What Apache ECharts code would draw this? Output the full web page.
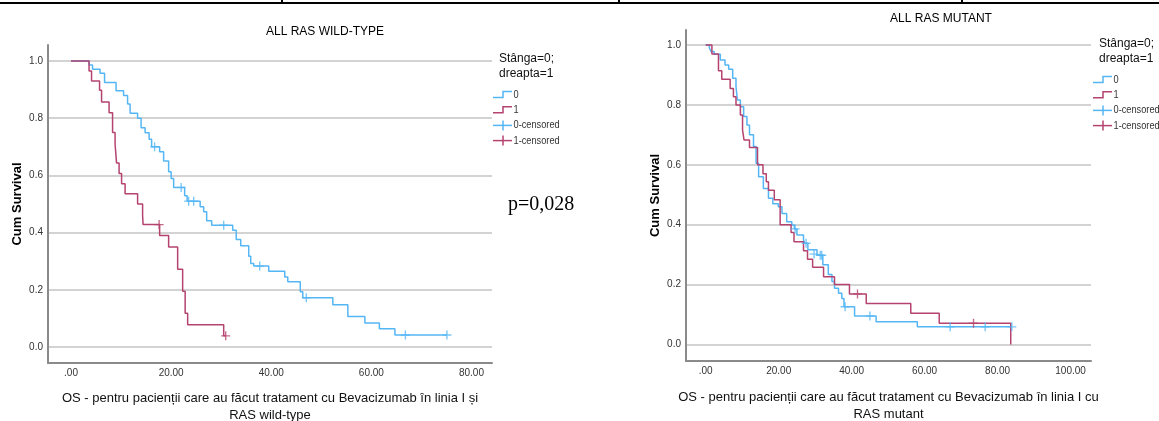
<!DOCTYPE html>
<html>
<head>
<meta charset="utf-8">
<script src="https://cdn.jsdelivr.net/npm/echarts@6/dist/echarts.min.js"></script>
<style>
  html, body { margin: 0; padding: 0; background: #fff; }
  #chart { width: 1159px; height: 421px; }
</style>
</head>
<body>
<div id="chart"></div>
<script>
// tick labels
var xTicksWT = [0, 20, 40, 60, 80]
var xTicksMut = [0, 20, 40, 60, 80, 100]
var yTicks = [0, 0.2, 0.4, 0.6, 0.8, 1.0]
var legendLabels = ['0', '1', '0-censored', '1-censored']

// ALL RAS WILD-TYPE, group 0 (blue)
var wtTime0 = [0, 3.6, 4.3, 5.8, 6.7, 9.0, 10.5, 11.3, 11.8, 13.3, 14.0, 14.8, 15.6, 16.1, 17.7, 18.5, 19.5, 20.0, 20.5, 22.7, 23.2, 25.8, 26.5, 27.1, 28.1, 32.3, 33.0, 33.9, 35.5, 35.9, 36.5, 39.5, 42.7, 43.3, 45.8, 46.3, 52.3, 55.3, 58.7, 61.6, 64.7, 75.1]
var wtSurv0 = [1, 0.986, 0.971, 0.957, 0.925, 0.896, 0.879, 0.85, 0.817, 0.80, 0.767, 0.749, 0.726, 0.70, 0.683, 0.65, 0.613, 0.589, 0.558, 0.529, 0.51, 0.49, 0.473, 0.441, 0.426, 0.408, 0.376, 0.354, 0.317, 0.292, 0.283, 0.265, 0.245, 0.228, 0.193, 0.172, 0.148, 0.107, 0.084, 0.064, 0.042, 0.042]
var wtCensTime0 = [16.7, 22.0, 23.5, 24.5, 30.5, 37.7, 47.0, 66.8, 75.1]
var wtCensSurv0 = [0.70, 0.558, 0.51, 0.51, 0.426, 0.283, 0.172, 0.042, 0.042]

// ALL RAS WILD-TYPE, group 1 (red)
var wtTime1 = [0, 3.6, 4.1, 5.7, 6.1, 7.6, 8.3, 8.8, 9.1, 9.6, 10.1, 10.8, 13.3, 14.3, 14.4, 17.7, 19.5, 21.3, 22.3, 22.8, 23.3, 30.5, 30.9]
var wtSurv1 = [1, 0.965, 0.93, 0.898, 0.857, 0.819, 0.75, 0.71, 0.643, 0.607, 0.571, 0.536, 0.50, 0.46, 0.428, 0.39, 0.35, 0.272, 0.195, 0.118, 0.078, 0.039, 0.039]
var wtCensTime1 = [17.6, 30.9]
var wtCensSurv1 = [0.428, 0.039]

// ALL RAS MUTANT, group 0 (blue)
var mutTime0 = [0, 1.0, 1.5, 2.3, 4.0, 5.3, 6.3, 7.4, 8.3, 8.7, 9.5, 10.4, 11.3, 12.0, 13.1, 13.8, 14.5, 15.8, 17.2, 18.4, 19.9, 20.9, 22.2, 23.6, 24.3, 25.0, 26.8, 27.2, 28.0, 30.5, 32.1, 33.6, 34.6, 35.3, 36.4, 37.3, 37.9, 40.8, 46.7, 58.0, 83.9]
var mutSurv0 = [1, 0.99, 0.978, 0.969, 0.95, 0.933, 0.919, 0.889, 0.861, 0.816, 0.794, 0.761, 0.733, 0.70, 0.661, 0.605, 0.56, 0.521, 0.488, 0.47, 0.46, 0.437, 0.41, 0.399, 0.386, 0.366, 0.349, 0.338, 0.316, 0.298, 0.266, 0.234, 0.21, 0.188, 0.171, 0.154, 0.126, 0.095, 0.076, 0.059, 0.059]
var mutCensTime0 = [24.5, 27.5, 29.7, 31.4, 31.8, 38.2, 45.0, 67.0, 76.6, 83.9]
var mutCensSurv0 = [0.386, 0.338, 0.302, 0.298, 0.298, 0.126, 0.095, 0.059, 0.059, 0.059]

// ALL RAS MUTANT, group 1 (red)
var mutTime1 = [0, 1.7, 3.5, 4.4, 6.7, 7.6, 8.3, 9.5, 10.1, 10.5, 12.0, 14.2, 15.7, 16.6, 17.2, 18.8, 20.4, 23.4, 24.2, 26.8, 27.9, 29.3, 32.3, 35.3, 39.4, 44.0, 56.2, 64.0, 83.6]
var mutSurv1 = [1, 0.97, 0.914, 0.886, 0.855, 0.827, 0.80, 0.766, 0.716, 0.683, 0.658, 0.60, 0.57, 0.543, 0.515, 0.483, 0.40, 0.374, 0.343, 0.313, 0.285, 0.258, 0.226, 0.20, 0.169, 0.137, 0.104, 0.071, 0]
var mutCensTime1 = [41.6, 73.4]
var mutCensSurv1 = [0.169, 0.071]

var BLUE = '#55b6f5'
var RED = '#b5436f'
var SANS = "'Liberation Sans', Arial, sans-serif"
var PLUS = 'path://M-0.75,-5H0.75V-0.75H5V0.75H0.75V5H-0.75V0.75H-5V-0.75H-0.75Z'

function zip(a, b) {
  return a.map(function(v, i) { return [v, b[i]] })
}

function xAxisFor(gridIndex, min, max, ticks, title, gap) {
  return {
    type: 'value', gridIndex: gridIndex, min: min, max: max,
    name: title, nameLocation: 'middle', nameGap: gap,
    nameTextStyle: { fontFamily: SANS, fontSize: 13, color: '#111', lineHeight: 17 },
    axisLine: { onZero: false, lineStyle: { color: '#8a8a8a', width: 2 } },
    axisTick: { show: false, customValues: ticks },
    axisLabel: {
      customValues: ticks, margin: 5, fontFamily: SANS, fontSize: 10, color: '#333',
      formatter: function(v) { return v === 0 ? '.00' : v.toFixed(2) }
    },
    splitLine: { show: false }
  }
}

function yAxisFor(gridIndex, min, max) {
  return {
    type: 'value', gridIndex: gridIndex, min: min, max: max,
    name: 'Cum Survival', nameLocation: 'middle', nameGap: 24,
    nameTextStyle: { fontFamily: SANS, fontSize: 13, fontWeight: 'bold', color: '#000' },
    axisLine: { onZero: false, lineStyle: { color: '#8a8a8a', width: 2 } },
    axisTick: { show: false, customValues: yTicks },
    axisLabel: {
      customValues: yTicks, margin: 5, fontFamily: SANS, fontSize: 10, color: '#333',
      formatter: function(v) { return v.toFixed(1) }
    },
    splitLine: { show: true, lineStyle: { color: '#d3d3d3', width: 2 } }
  }
}

function kmSeries(idx, name, color, time, surv) {
  return {
    name: name, type: 'line', step: 'end', xAxisIndex: idx, yAxisIndex: idx,
    showSymbol: false, symbol: 'none', color: color,
    lineStyle: { color: color, width: 1.5 },
    data: zip(time, surv)
  }
}

function censSeries(idx, name, color, time, surv) {
  return {
    name: name, type: 'scatter', xAxisIndex: idx, yAxisIndex: idx,
    symbol: PLUS, symbolSize: 9, color: color, z: 3,
    itemStyle: { color: color },
    data: zip(time, surv)
  }
}

// SPSS style legend: title, step icons for curves, cross icons for censored marks
function legendFor(x, titleTop, firstY) {
  var colors = [BLUE, RED, BLUE, RED]
  var els = [{
    type: 'text', x: x + 6, y: titleTop,
    style: { text: 'Stânga=0;\ndreapta=1', font: '12px ' + SANS, fill: '#111', lineHeight: 15 }
  }]
  legendLabels.forEach(function(label, i) {
    var y = firstY + i * 15.2
    if (i < 2) {
      els.push({ type: 'polyline', shape: { points: [[x, y + 2.5], [x + 10, y + 2.5], [x + 10, y - 3.5], [x + 19, y - 3.5]] },
        style: { stroke: colors[i], lineWidth: 1.5, fill: null } })
    } else {
      els.push({ type: 'line', shape: { x1: x, y1: y, x2: x + 19, y2: y }, style: { stroke: colors[i], lineWidth: 1.5 } })
      els.push({ type: 'line', shape: { x1: x + 10, y1: y - 5, x2: x + 10, y2: y + 5 }, style: { stroke: colors[i], lineWidth: 1.5 } })
    }
    els.push({ type: 'text', x: x + 20.5, y: y, scaleX: 0.84,
      style: { text: label, font: '11px ' + SANS, fill: '#333', verticalAlign: 'middle', align: 'left' } })
  })
  return els
}

var chart = echarts.init(document.getElementById('chart'))

chart.setOption({
  animation: false,
  backgroundColor: '#fff',
  title: [
    { text: 'ALL RAS WILD-TYPE', left: 325, top: 26, textAlign: 'center', padding: 0,
      textStyle: { fontFamily: SANS, fontSize: 12, fontWeight: 'normal', color: '#000' } },
    { text: 'ALL RAS MUTANT', left: 941, top: 13, textAlign: 'center', padding: 0,
      textStyle: { fontFamily: SANS, fontSize: 12, fontWeight: 'normal', color: '#000' } }
  ],
  grid: [
    { left: 48, top: 45, width: 444, height: 318, outerBoundsMode: 'none' },
    { left: 686, top: 30, width: 405, height: 331, outerBoundsMode: 'none' }
  ],
  xAxis: [
    xAxisFor(0, -4.6, 84.1, xTicksWT, 'OS - pentru pacienții care au făcut tratament cu Bevacizumab în linia I și\nRAS wild-type', 26.5),
    xAxisFor(1, -5.4, 105.6, xTicksMut, 'OS - pentru pacienții care au făcut tratament cu Bevacizumab în linia I cu\nRAS mutant', 27.5)
  ],
  yAxis: [
    yAxisFor(0, -0.056, 1.056),
    yAxisFor(1, -0.055, 1.05)
  ],
  series: [
    kmSeries(0, '0', BLUE, wtTime0, wtSurv0),
    kmSeries(0, '1', RED, wtTime1, wtSurv1),
    censSeries(0, '0-censored', BLUE, wtCensTime0, wtCensSurv0),
    censSeries(0, '1-censored', RED, wtCensTime1, wtCensSurv1),
    kmSeries(1, '0', BLUE, mutTime0, mutSurv0),
    kmSeries(1, '1', RED, mutTime1, mutSurv1),
    censSeries(1, '0-censored', BLUE, mutCensTime0, mutCensSurv0),
    censSeries(1, '1-censored', RED, mutCensTime1, mutCensSurv1)
  ],
  graphic: [
    // table border at the top
    { type: 'line', shape: { x1: 0, y1: 3, x2: 1159, y2: 3 }, style: { stroke: '#000', lineWidth: 2 } },
    { type: 'line', shape: { x1: 282, y1: 0, x2: 282, y2: 4 }, style: { stroke: '#000', lineWidth: 2 } },
    { type: 'line', shape: { x1: 619, y1: 0, x2: 619, y2: 4 }, style: { stroke: '#000', lineWidth: 2 } },
    { type: 'line', shape: { x1: 962, y1: 0, x2: 962, y2: 4 }, style: { stroke: '#000', lineWidth: 2 } },
    // p value
    { type: 'text', left: 508, top: 195, style: { text: 'p=0,028', font: '20px "Liberation Serif", "Times New Roman", serif', fill: '#000' } }
  ].concat(legendFor(493, 51, 95), legendFor(1093, 36, 80))
})
</script>
</body>
</html>
